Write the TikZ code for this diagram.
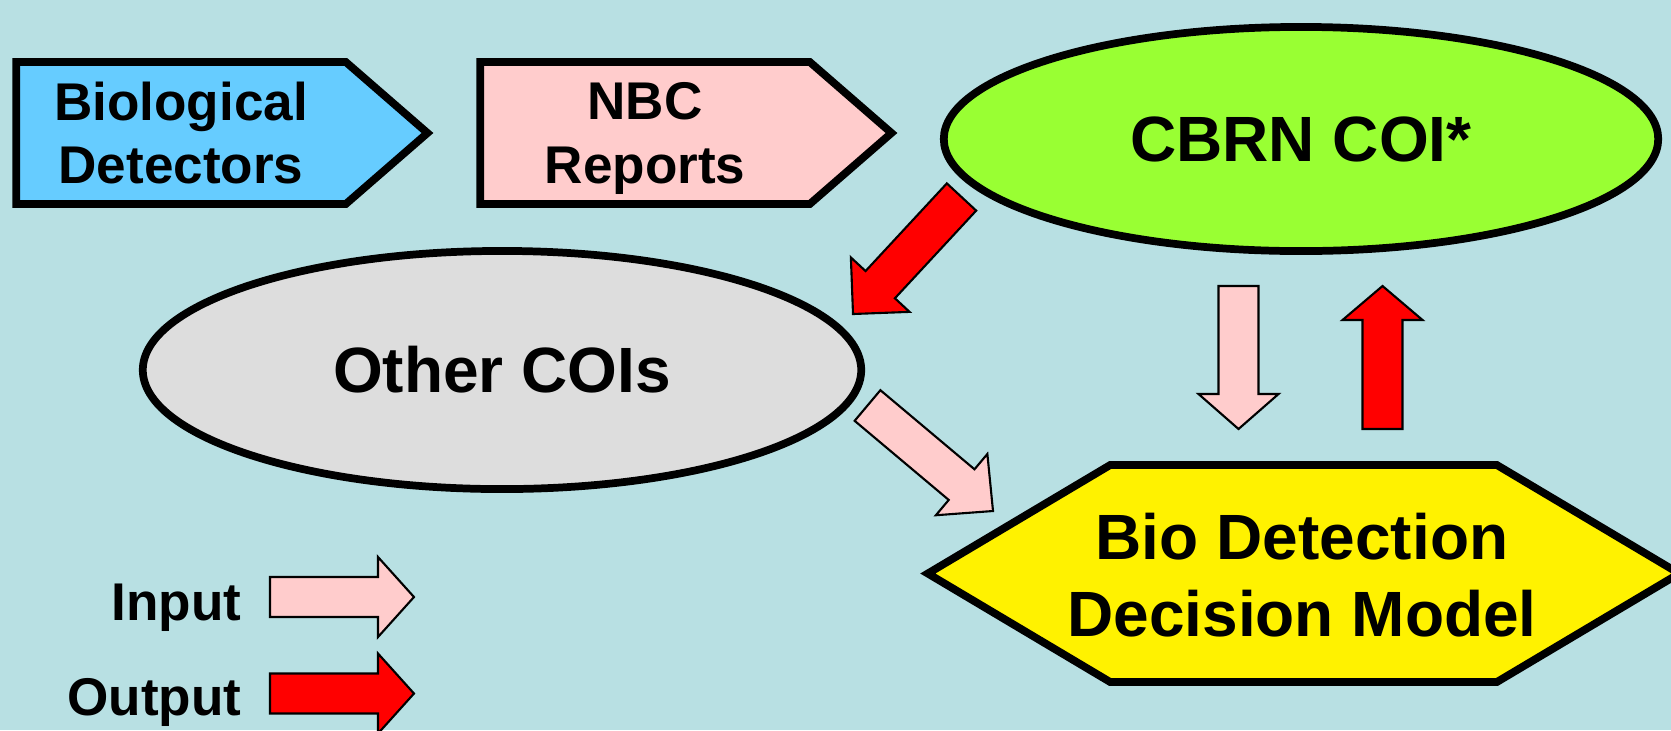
\documentclass[tikz,border=0pt]{standalone}
\usepackage{fontspec}
\setmainfont{Liberation Sans}
\usepackage{xcolor}
\usepackage{tikz}
\usetikzlibrary{shapes,arrows,positioning,calc}

\definecolor{bgblue}{RGB}{184,224,227}
\definecolor{detblue}{RGB}{102,204,255}
\definecolor{inpink}{RGB}{255,204,204}
\definecolor{coigreen}{RGB}{153,255,51}
\definecolor{coigray}{RGB}{221,221,221}
\definecolor{outred}{RGB}{255,0,0}

\begin{document}
\begin{tikzpicture}[
    x=0.01cm, y=-0.01cm,
    source/.style={signal, signal to=east, signal pointer angle=82, draw, line width=2.2pt, minimum width=4.11cm, minimum height=1.42cm, inner sep=2pt, align=center, text depth=0pt, font=\bfseries\fontsize{15.1pt}{18pt}\selectfont},
    coi/.style={ellipse, draw, line width=2.2pt, inner sep=0pt, font=\bfseries\fontsize{18.2pt}{22pt}\selectfont},
    model/.style={signal, signal to=east and west, signal pointer angle=61.5, draw, fill=yellow, line width=2.2pt, minimum width=7.51cm, minimum height=2.17cm, inner sep=0pt},
    modeltext/.style={align=center, text depth=0pt, font=\bfseries\fontsize{18.2pt}{22pt}\selectfont},
    legendtext/.style={anchor=base east, inner sep=0pt, font=\bfseries\fontsize{15.1pt}{18pt}\selectfont},
    block/.style={draw, line width=0.6pt, to path={
        ($(\tikztostart)!2mm!90:(\tikztotarget)$)
        -- ($(\tikztotarget)!#1!(\tikztostart)!2mm!90:(\tikztotarget)$)
        -- ($(\tikztotarget)!#1!(\tikztostart)!4mm!90:(\tikztotarget)$)
        -- (\tikztotarget)
        -- ($(\tikztotarget)!#1!(\tikztostart)!4mm!-90:(\tikztotarget)$)
        -- ($(\tikztotarget)!#1!(\tikztostart)!2mm!-90:(\tikztotarget)$)
        -- ($(\tikztostart)!2mm!-90:(\tikztotarget)$)
        -- cycle}},
    block/.default=3.6mm,
    inarrow/.style={block=#1, fill=inpink},
    inarrow/.default=3.6mm,
    outarrow/.style={block=#1, fill=outred},
    outarrow/.default=3.6mm
]

% Background
\path[use as bounding box, fill=bgblue] (0,0) rectangle (1671,730);

% Sources
\node[source, fill=detblue] (biodet) at (181,133) {Biological\\Detectors};
\node[source, fill=inpink] (nbc) at (645,133) {NBC\\Reports};

% Communities of interest
\node[coi, fill=coigreen, minimum width=7.14cm, minimum height=2.24cm] (cbrn) at (1301,139) {CBRN COI*};
\node[coi, fill=coigray, minimum width=7.18cm, minimum height=2.38cm] (other) at (502,370) {Other COIs};

% Decision model
\node[model] (bdmbox) at (1303.5,573.5) {};
\node[modeltext] (bdm) at (1302,575) {Bio Detection\\Decision Model};

% Flow arrows
\coordinate (cbrnout) at (961.5,197);
\coordinate (otherin) at (853,314);
\coordinate (otherout) at (867.5,405.5);
\coordinate (bdmin) at (993,511);
\coordinate (cbrndown) at (1238.5,286);
\coordinate (bdmtop) at (1238.5,429);
\coordinate (bdmup) at (1382.5,429);
\coordinate (cbrnin) at (1382.5,286);

\draw[outarrow=4mm] (cbrnout) to (otherin);
\draw[inarrow=4.1mm] (otherout) to (bdmin);
\draw[inarrow=3.5mm] (cbrndown) to (bdmtop);
\draw[outarrow=3.4mm] (bdmup) to (cbrnin);

% Legend
\node[legendtext] (inlabel) at (242,620) {Input};
\node[legendtext] (outlabel) at (242,715) {Output};
\coordinate (intail) at (270,597);
\coordinate (inhead) at (414,597);
\coordinate (outtail) at (270,693.5);
\coordinate (outhead) at (414,693.5);
\draw[inarrow] (intail) to (inhead);
\draw[outarrow] (outtail) to (outhead);

\end{tikzpicture}
\end{document}
